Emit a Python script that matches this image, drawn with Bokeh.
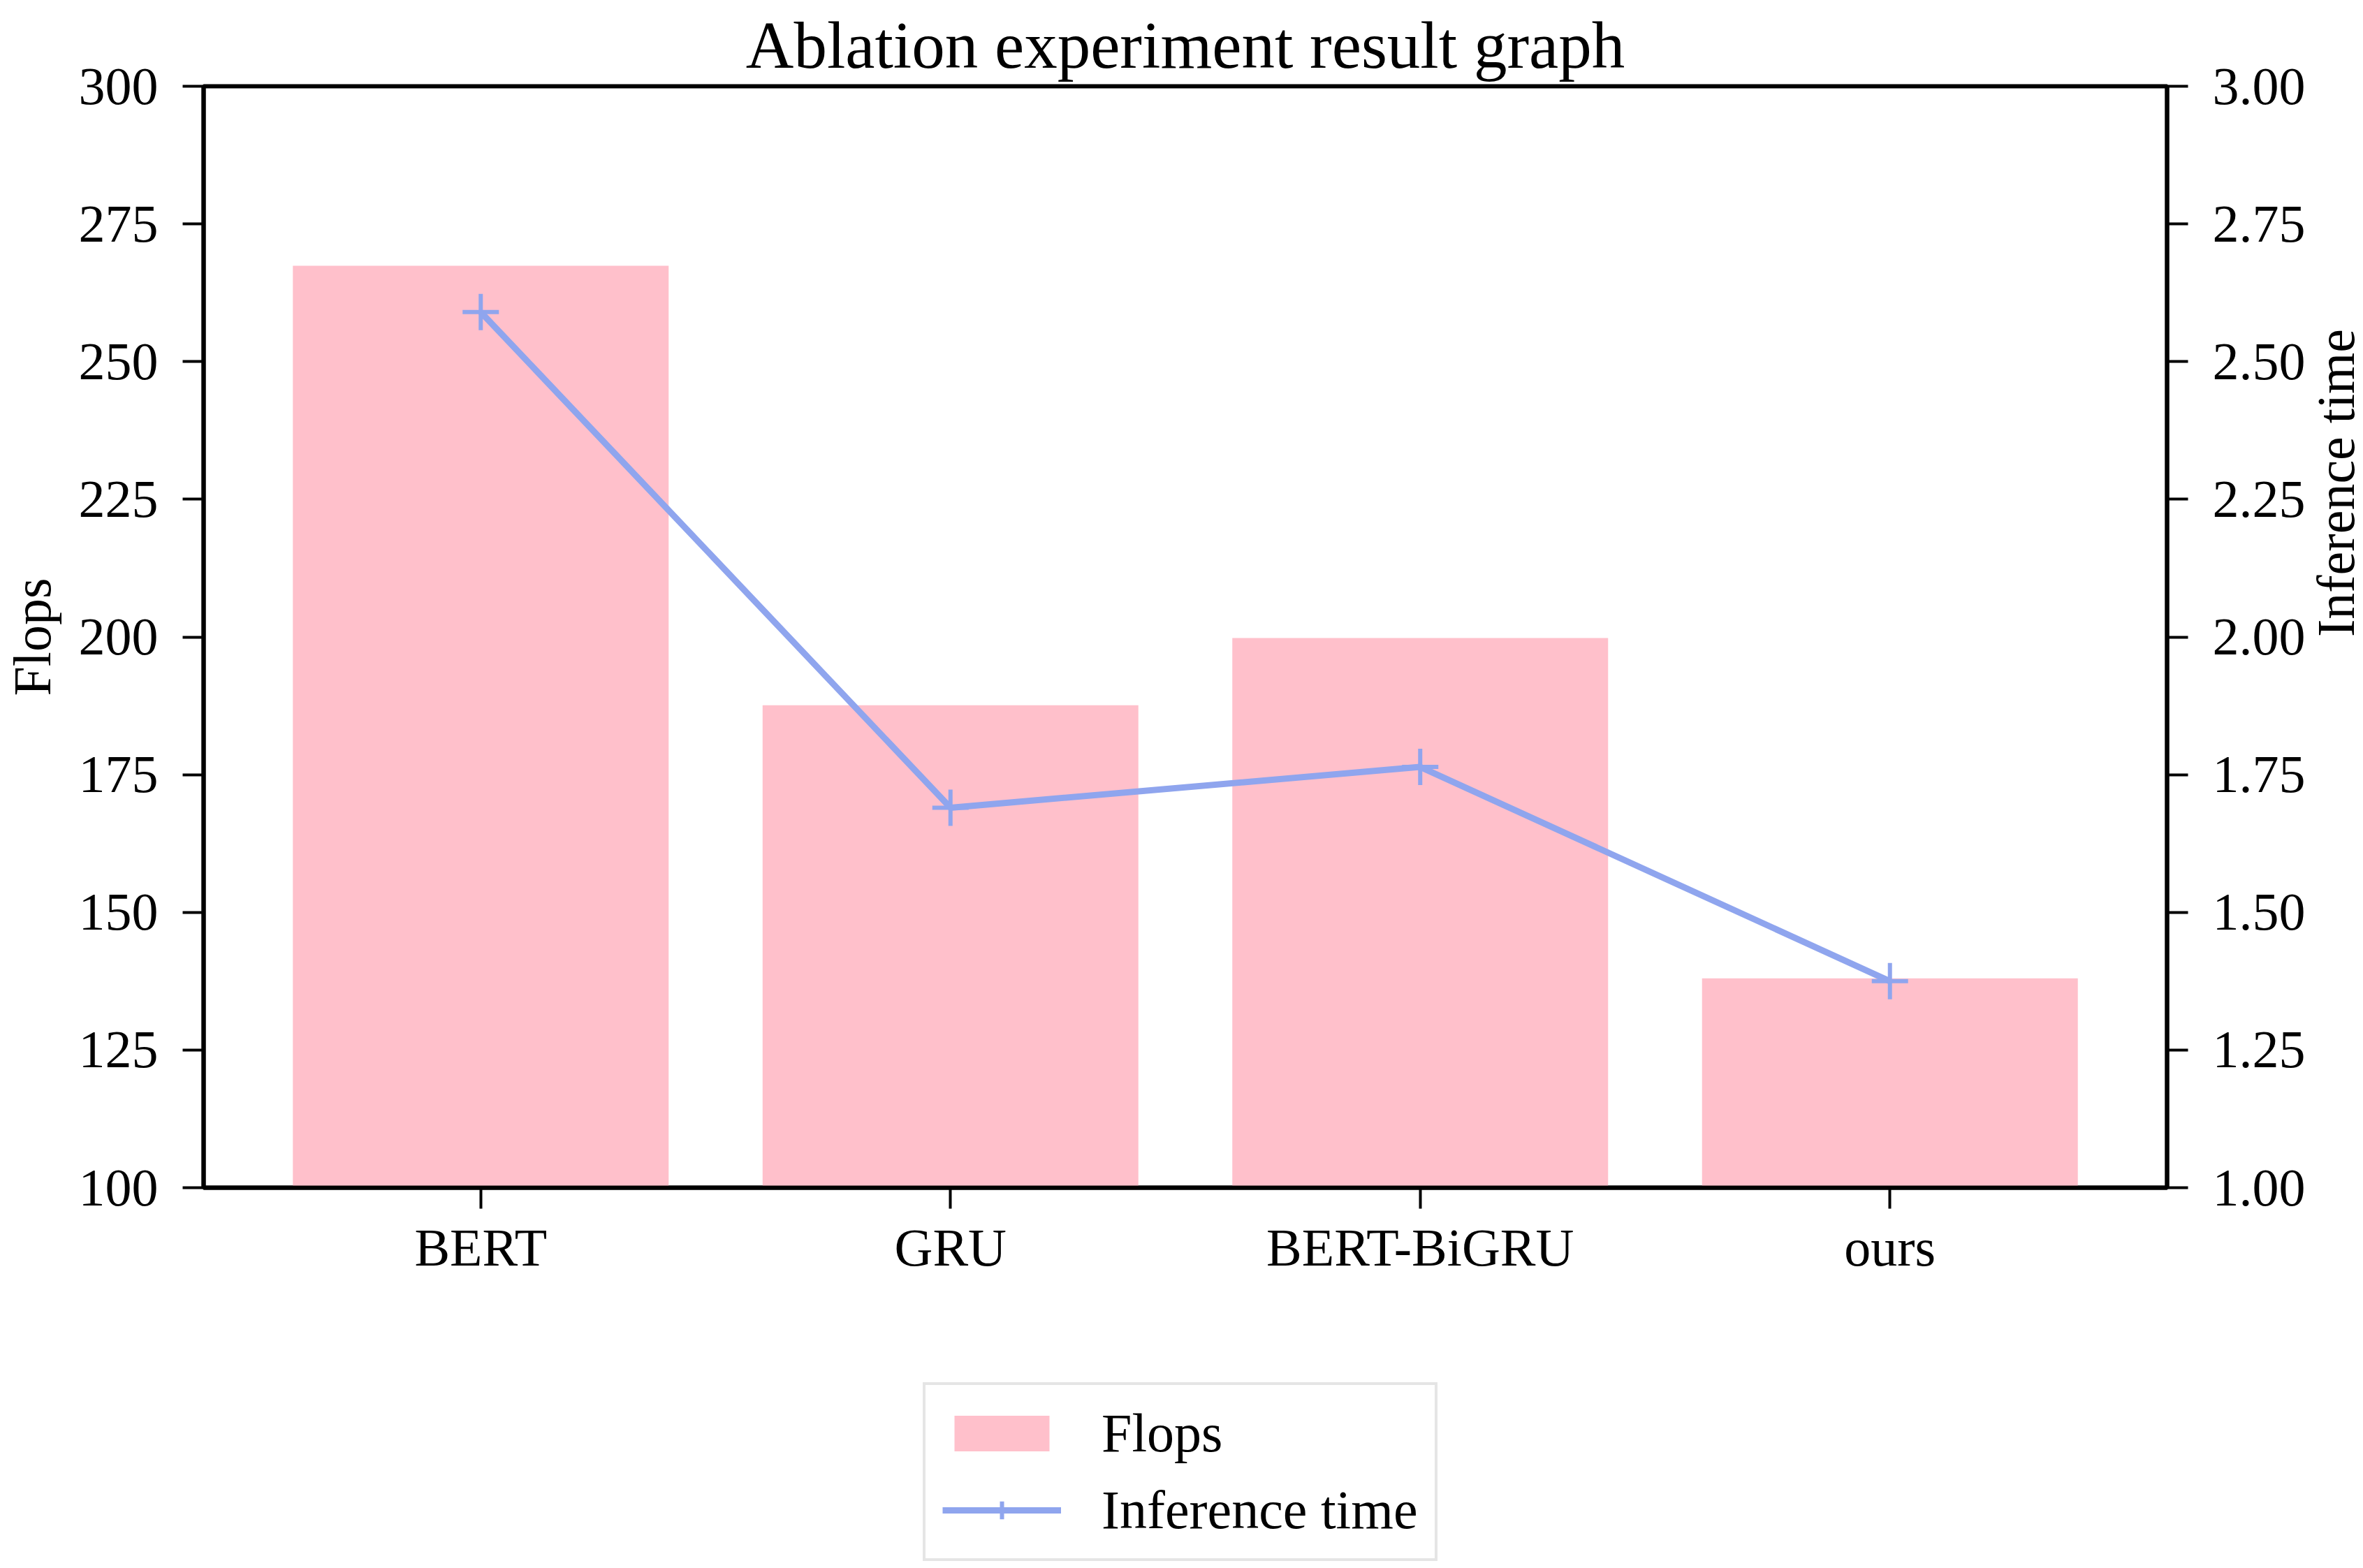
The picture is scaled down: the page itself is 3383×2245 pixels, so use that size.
import math
from bokeh.plotting import figure
from bokeh.layouts import column
from bokeh.models import (Range1d, LinearAxis, FixedTicker, NumeralTickFormatter,
                          Legend, LegendItem, ColumnDataSource)
from bokeh.embed import file_html
from bokeh.resources import INLINE

# ---- data ----
categories = ["BERT", "GRU", "BERT-BiGRU", "ours"]
flops = [267.4, 187.6, 199.8, 138.0]
inference_time = [2.59, 1.69, 1.764, 1.375]
flops_ticks = [100, 125, 150, 175, 200, 225, 250, 275, 300]
time_ticks = [1.00, 1.25, 1.50, 1.75, 2.00, 2.25, 2.50, 2.75, 3.00]

FONT = "Liberation Serif"
TICK_FS = "76px"
BAR_COLOR = "#FFC0CB"
LINE_COLOR = "#8FA5EE"
W = 3367

xpos = list(range(len(categories)))
src = ColumnDataSource(dict(x=xpos, flops=flops, t=inference_time))

p = figure(frame_width=2811, frame_height=1577,
           min_border_left=283, min_border_right=273,
           min_border_top=123, min_border_bottom=160,
           x_range=Range1d(-0.59, 3.59), y_range=Range1d(100, 300),
           output_backend="svg", toolbar_location=None)
p.extra_y_ranges = {"time": Range1d(1.0, 3.0)}

p.title.text = "Ablation experiment result graph"
p.title.text_font = FONT
p.title.text_font_size = "95px"
p.title.text_font_style = "normal"
p.title.align = "center"
p.title.vertical_align = "bottom"
p.title.standoff = 12
p.title.text_color = "black"

p.xgrid.visible = False
p.ygrid.visible = False
p.outline_line_color = "black"
p.outline_line_width = 6
p.outline_line_alpha = 1.0
p.background_fill_color = "white"
p.border_fill_color = "white"

def add_series(fig, time_range=None):
    kw = {} if time_range is None else {"y_range_name": time_range}
    b = fig.vbar(x="x", top="flops", bottom=0, width=0.8, source=src,
                 fill_color=BAR_COLOR, line_color=None)
    l = fig.line(x="x", y="t", source=src, line_color=LINE_COLOR, line_width=9, **kw)
    m = fig.scatter(x="x", y="t", source=src, marker="cross", size=52,
                    line_color=LINE_COLOR, line_width=6, **kw)
    return b, l, m

add_series(p, "time")

# left axis
ya = p.yaxis[0]
ya.ticker = FixedTicker(ticks=flops_ticks)
ya.axis_label = "Flops"

# x axis
xa = p.xaxis[0]
xa.ticker = FixedTicker(ticks=xpos)
xa.major_label_overrides = {i: c for i, c in enumerate(categories)}

# right axis
ra = LinearAxis(y_range_name="time", axis_label="Inference time")
ra.ticker = FixedTicker(ticks=time_ticks)
ra.formatter = NumeralTickFormatter(format="0.00")
ra.axis_label_orientation = math.pi / 2
p.add_layout(ra, "right")

for ax in [xa, ya, ra]:
    ax.axis_line_color = "black"
    ax.axis_line_width = 6
    ax.major_tick_line_color = "black"
    ax.major_tick_line_width = 4
    ax.major_tick_out = 30
    ax.major_tick_in = 0
    ax.minor_tick_line_color = None
    ax.major_label_text_font = FONT
    ax.major_label_text_font_size = TICK_FS
    ax.major_label_text_color = "black"
    ax.axis_label_text_font = FONT
    ax.axis_label_text_font_size = TICK_FS
    ax.axis_label_text_font_style = "normal"
    ax.axis_label_text_color = "black"

xa.major_label_standoff = 13
ya.major_label_standoff = 35
ra.major_label_standoff = 35
ya.axis_label_standoff = 22
ra.axis_label_standoff = 40

# ---- legend strip below the chart (same series, out of view ranges) ----
p2 = figure(frame_width=W, frame_height=377,
            min_border_left=0, min_border_right=0, min_border_top=0, min_border_bottom=0,
            x_range=Range1d(50, 51), y_range=Range1d(1000, 1001),
            x_axis_location=None, y_axis_location=None,
            output_backend="svg", toolbar_location=None)
p2.outline_line_color = None
p2.grid.visible = False
p2.background_fill_color = "white"
p2.border_fill_color = "white"
b2, l2, m2 = add_series(p2)

legend = Legend(items=[LegendItem(label="Flops", renderers=[b2]),
                       LegendItem(label="Inference time", renderers=[l2, m2])],
                location=(1321, 2), orientation="vertical",
                label_text_font=FONT, label_text_font_size="78px",
                label_text_color="black",
                glyph_width=170, glyph_height=64, label_standoff=58,
                padding=24, spacing=20, margin=0,
                border_line_color="#cccccc", border_line_width=4,
                background_fill_color="white", background_fill_alpha=1.0)
p2.add_layout(legend, "center")

layout = column(p, p2, spacing=0)
open("out.html", "w").write(file_html(layout, INLINE))
